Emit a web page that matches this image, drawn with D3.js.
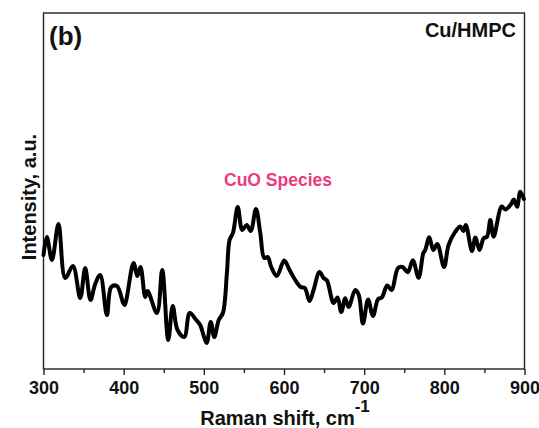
<!DOCTYPE html>
<html>
<head>
<meta charset="utf-8">
<script src="https://cdn.jsdelivr.net/npm/d3@7/dist/d3.min.js"></script>
<style>
  body { margin: 0; background: #fff; }
  svg { display: block; font-family: "Liberation Sans", Arial, sans-serif; }
</style>
</head>
<body>
<svg id="chart" width="539" height="428"></svg>
<script>
// Raman shift (cm^-1)
const shift = [300, 304.2, 310.5, 318.7, 327.1, 336.7, 345.8, 352, 358.6, 364.5, 370.7, 379.1, 384.5, 391.6, 399.4, 401.3,
  412.3, 416.9, 421, 426.9, 429.8, 441.5, 448.1, 455.6, 461.2, 467.2, 475.6, 482.4, 490.5, 495.5, 499.9, 503.6,
  508.6, 513, 518.6, 523.8, 528.8, 532.1, 536.3, 542.3, 547.9, 553.5, 558.5, 565, 570.4, 575.4, 579.7, 584.1,
  591, 600.3, 606.9, 614, 620.9, 625.9, 631.9, 636.9, 644.2, 649.4, 653.6, 661.8, 666.8, 671.4, 676.4, 680.5,
  688.9, 693.3, 698.5, 704.9, 711, 717.4, 722, 728.8, 734.1, 742.3, 747.8, 754.4, 760.7, 767.9, 773.8, 776.2,
  781.2, 786.2, 791.2, 799.6, 805.3, 813.7, 819.9, 823.7, 826.8, 834.5, 838.7, 843.9, 849, 853.2, 857.4, 861.5,
  871.5, 876.1, 883, 886.5, 890.7, 894.8, 899.2];
// Intensity (a.u.)
const intensity = [114, 132, 109, 145, 91, 103, 71, 101, 69, 85, 94, 54, 82, 83, 66, 64,
  106, 93, 102, 72, 78, 56, 99, 29, 63, 39, 32, 56, 49, 44, 33, 26,
  47, 32, 49, 56, 96, 129, 136, 162, 139, 144, 138, 160, 136, 111, 112, 102,
  93, 108.5, 99, 89, 82, 81, 68, 79, 97, 91, 88.5, 66, 71.5, 57, 70.7, 62,
  79, 74, 45.5, 69.5, 53, 70, 71.5, 83.5, 79, 101, 102, 96.8, 108.7, 91.2, 116, 119,
  131.7, 119, 125, 102, 124, 137.3, 142.5, 138, 144, 118, 131.5, 119, 130.7, 132.3, 149, 132.3,
  162.5, 159.5, 164.5, 169.5, 162.3, 177.3, 170];
const xTicks = [300, 400, 500, 600, 700, 800, 900];
const xMinorTicks = [350, 450, 550, 650, 750, 850];
const panelLabel = "(b)";
const sampleLabel = "Cu/HMPC";
const peakLabel = "CuO Species";
const xTitle = "Raman shift, cm";
const yTitle = "Intensity, a.u.";

const svg = d3.select("#chart");
const L = 43.5, R = 524.5, T = 13, B = 369;
const x = d3.scaleLinear().domain([300, 900]).range([L, R]);
const y = d3.scaleLinear().domain([0, 356]).range([B, T]);

const data = shift.map((s, i) => ({ s, v: intensity[i] }));

// frame
svg.append("rect").attr("x", L).attr("y", T).attr("width", R - L).attr("height", B - T)
  .attr("fill", "none").attr("stroke", "#222").attr("stroke-width", 1.4);

// curve
const line = d3.line().x(d => x(d.s)).y(d => y(d.v)).curve(d3.curveCatmullRom.alpha(0.5));
svg.append("path").datum(data).attr("d", line)
  .attr("fill", "none").attr("stroke", "#000").attr("stroke-width", 4)
  .attr("stroke-linejoin", "round").attr("stroke-linecap", "round");

// x axis
const ax = svg.append("g").attr("transform", `translate(0,${B})`)
  .call(d3.axisBottom(x).tickValues(xTicks).tickSize(6).tickPadding(6).tickFormat(d3.format("d")));
ax.select(".domain").remove();
ax.selectAll(".tick line").attr("stroke", "#222").attr("stroke-width", 1.4);
ax.selectAll(".tick text").attr("font-size", 18).attr("font-weight", "bold").attr("fill", "#111")
  .attr("font-family", "Liberation Sans, Arial, sans-serif");
const axm = svg.append("g").attr("transform", `translate(0,${B})`)
  .call(d3.axisBottom(x).tickValues(xMinorTicks).tickSize(4).tickFormat(""));
axm.select(".domain").remove();
axm.selectAll(".tick line").attr("stroke", "#222").attr("stroke-width", 1.4);

// axis titles
const xt = svg.append("text").attr("x", 285).attr("y", 425).attr("text-anchor", "middle")
  .attr("font-size", 20).attr("font-weight", "bold").attr("fill", "#111");
xt.append("tspan").text(xTitle);
xt.append("tspan").attr("dy", -13).attr("font-size", 17).text("-1");

svg.append("text").attr("transform", "translate(36,197) rotate(-90)").attr("text-anchor", "middle")
  .attr("font-size", 20).attr("font-weight", "bold").attr("fill", "#111").text(yTitle);

// annotations
svg.append("text").attr("x", 49).attr("y", 45).attr("font-size", 26).attr("font-weight", "bold")
  .attr("fill", "#111").text(panelLabel);
svg.append("text").attr("x", 516).attr("y", 37).attr("text-anchor", "end").attr("font-size", 20)
  .attr("font-weight", "bold").attr("fill", "#111").text(sampleLabel);
svg.append("text").attr("x", 278).attr("y", 186).attr("text-anchor", "middle").attr("font-size", 17.5)
  .attr("font-weight", "bold").attr("fill", "#ec3a7f").text(peakLabel);
</script>
</body>
</html>
